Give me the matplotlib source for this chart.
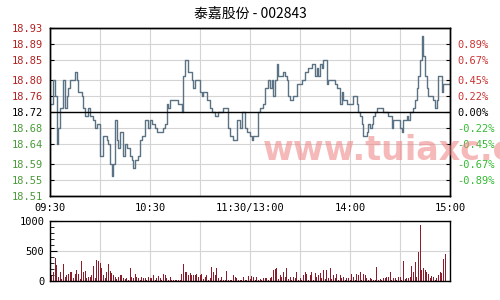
import numpy as np
import matplotlib
matplotlib.use("Agg")
import matplotlib.pyplot as plt
from matplotlib.ticker import MultipleLocator

plt.rcParams['font.family'] = ['Noto Sans CJK SC', 'DejaVu Sans']

title = "泰嘉股份 - 002843"
prev_close = 18.72
price_ticks = [18.51, 18.55, 18.59, 18.64, 18.68, 18.72, 18.76, 18.80, 18.85, 18.89, 18.93]
pct_ticks = [18.55, 18.59, 18.64, 18.68, 18.72, 18.76, 18.80, 18.85, 18.89]
pct_labels = ["-0.89%", "-0.67%", "-0.45%", "-0.22%", "0.00%", "0.22%", "0.45%", "0.67%", "0.89%"]
time_ticks = [0, 60, 120, 180, 240]
time_labels = ["09:30", "10:30", "11:30/13:00", "14:00", "15:00"]

# minute prices 09:30 .. 15:00 (241 points)
prices = [
    18.74, 18.74, 18.80, 18.76, 18.64, 18.68, 18.73, 18.73, 18.80, 18.73,
    18.76, 18.78, 18.80, 18.80, 18.80, 18.82, 18.80, 18.77, 18.77, 18.76,
    18.73, 18.71, 18.71, 18.73, 18.71, 18.71, 18.70, 18.68, 18.69, 18.69,
    18.61, 18.61, 18.66, 18.66, 18.65, 18.64, 18.59, 18.56, 18.59, 18.70,
    18.65, 18.63, 18.67, 18.67, 18.61, 18.64, 18.63, 18.63, 18.61, 18.60,
    18.58, 18.60, 18.60, 18.61, 18.65, 18.66, 18.66, 18.70, 18.70, 18.68,
    18.70, 18.69, 18.69, 18.68, 18.67, 18.67, 18.67, 18.67, 18.68, 18.69,
    18.74, 18.73, 18.75, 18.75, 18.75, 18.75, 18.75, 18.74, 18.74, 18.72,
    18.81, 18.85, 18.85, 18.82, 18.82, 18.80, 18.78, 18.80, 18.80, 18.80,
    18.77, 18.76, 18.77, 18.77, 18.75, 18.75, 18.73, 18.72, 18.72, 18.71,
    18.71, 18.72, 18.72, 18.72, 18.73, 18.73, 18.73, 18.68, 18.66, 18.66,
    18.65, 18.65, 18.70, 18.70, 18.68, 18.72, 18.72, 18.68, 18.67, 18.67,
    18.66, 18.65, 18.66, 18.66, 18.66, 18.72, 18.73, 18.73, 18.74, 18.78,
    18.78, 18.80, 18.78, 18.80, 18.76, 18.80, 18.84, 18.81, 18.81, 18.81,
    18.82, 18.81, 18.80, 18.76, 18.75, 18.75, 18.76, 18.76, 18.79, 18.79,
    18.79, 18.80, 18.80, 18.82, 18.82, 18.83, 18.83, 18.84, 18.84, 18.81,
    18.83, 18.81, 18.84, 18.83, 18.85, 18.85, 18.79, 18.80, 18.80, 18.80,
    18.80, 18.79, 18.78, 18.78, 18.74, 18.77, 18.75, 18.75, 18.74, 18.74,
    18.74, 18.74, 18.76, 18.76, 18.74, 18.72, 18.71, 18.69, 18.66, 18.66,
    18.67, 18.69, 18.68, 18.69, 18.71, 18.72, 18.73, 18.73, 18.73, 18.73,
    18.72, 18.72, 18.72, 18.71, 18.71, 18.68, 18.70, 18.70, 18.70, 18.70,
    18.68, 18.67, 18.70, 18.70, 18.71, 18.70, 18.72, 18.72, 18.73, 18.75,
    18.78, 18.81, 18.85, 18.91, 18.86, 18.81, 18.78, 18.76, 18.76, 18.76,
    18.75, 18.73, 18.75, 18.81, 18.81, 18.77, 18.79, 18.79, 18.79, 18.79,
    18.79,
]

volumes = [
    270, 80, 150, 390, 270, 60, 155, 40, 280, 60,
    100, 110, 145, 155, 50, 110, 185, 110, 40, 335,
    145, 165, 45, 60, 75, 100, 255, 45, 355, 335,
    295, 210, 100, 45, 155, 280, 165, 130, 100, 75,
    40, 75, 100, 100, 45, 30, 45, 20, 220, 75,
    45, 110, 75, 45, 20, 75, 45, 45, 20, 75,
    45, 45, 100, 20, 45, 90, 45, 20, 110, 100,
    45, 20, 75, 20, 15, 20, 20, 10, 20, 110,
    280, 155, 145, 100, 130, 100, 100, 100, 110, 75,
    100, 110, 30, 75, 100, 20, 45, 240, 155, 100,
    220, 45, 20, 75, 20, 15, 165, 20, 20, 15,
    100, 75, 45, 20, 20, 15, 75, 20, 15, 90,
    30, 85, 75, 20, 75, 20, 35, 15, 45, 55,
    45, 20, 45, 75, 185, 200, 220, 30, 100, 75,
    155, 75, 220, 30, 75, 20, 75, 45, 155, 20,
    45, 20, 100, 155, 110, 20, 100, 155, 20, 130,
    75, 100, 130, 45, 185, 30, 185, 55, 210, 30,
    100, 45, 110, 20, 100, 55, 75, 20, 45, 45,
    20, 110, 75, 20, 110, 100, 145, 20, 110, 100,
    55, 20, 45, 35, 15, 10, 240, 15, 35, 20,
    45, 55, 75, 75, 155, 20, 45, 55, 15, 75,
    75, 20, 335, 30, 45, 55, 75, 255, 155, 320,
    75, 480, 935, 185, 220, 185, 155, 110, 45, 90,
    75, 20, 45, 100, 145, 130, 365, 445, 0, 0,
    0,
]

minutes = np.arange(len(prices))

fig = plt.figure(figsize=(5, 3), dpi=100)
ax = fig.add_axes([0.1, 0.3467, 0.8, 0.56])
axv = fig.add_axes([0.1, 0.0633, 0.8, 0.2])

red = "#b22222"
green = "#4a9a3a"

# price panel
ax.plot(minutes, prices, drawstyle="steps-post", color="#5a7283", lw=1)
ax.axhline(prev_close, color="black", lw=1)
ax.set_xlim(0, 240)
ax.set_ylim(18.51, 18.93)
ax.set_yticks(price_ticks)
ax.set_yticklabels([f"{p:.2f}" for p in price_ticks], family="DejaVu Sans Mono", fontsize=7.5)
for lab, p in zip(ax.get_yticklabels(), price_ticks):
    lab.set_color(red if p > prev_close else (green if p < prev_close else "black"))
ax.set_xticks(time_ticks)
ax.set_xticklabels(time_labels, family="DejaVu Sans Mono", fontsize=7.5)
ax.xaxis.set_minor_locator(MultipleLocator(30))
ax.grid(True, which="both", color="#d4d4d4", lw=0.8)
ax.tick_params(axis="y", direction="in", length=3, pad=5)
ax.tick_params(axis="x", which="both", length=0, pad=5)

ax2 = ax.twinx()
ax2.set_ylim(18.51, 18.93)
ax2.set_yticks(pct_ticks)
ax2.set_yticklabels(pct_labels, family="DejaVu Sans Mono", fontsize=7.5)
for lab, p in zip(ax2.get_yticklabels(), pct_ticks):
    lab.set_color("#cc3333" if p > prev_close else ("#33bb33" if p < prev_close else "black"))
ax2.tick_params(axis="y", direction="in", length=3, pad=5)

for a in (ax, ax2, axv):
    for s in a.spines.values():
        s.set_linewidth(1)
        s.set_color("black")

# watermark
fig.text(0.525, 0.5, "www.tuiaxc.cn", fontsize=24, fontweight="bold",
         color="#f08080", alpha=0.55, va="center", ha="left", family="DejaVu Sans")

# volume panel
axv.bar(minutes, volumes, width=0.6, color="#8b1c2c", lw=0)
axv.set_xlim(0, 240)
axv.set_ylim(0, 1000)
axv.set_yticks([0, 500, 1000])
axv.set_yticklabels(["0", "500", "1000"], family="DejaVu Sans Mono", fontsize=7.5)
axv.yaxis.set_minor_locator(MultipleLocator(100))
axv.set_xticks(time_ticks)
axv.set_xticklabels([])
axv.xaxis.set_minor_locator(MultipleLocator(30))
axv.grid(True, which="major", axis="y", color="#d4d4d4", lw=0.8)
axv.grid(True, which="both", axis="x", color="#d4d4d4", lw=0.8)
axv.set_axisbelow(True)
axv.tick_params(axis="y", which="major", direction="in", length=5, pad=4)
axv.tick_params(axis="y", which="minor", direction="in", length=3)
axv.tick_params(axis="x", which="both", length=0)

fig.text(0.5, 0.953, title, ha="center", va="center", fontsize=10)

fig.savefig("out.png", dpi=100)
